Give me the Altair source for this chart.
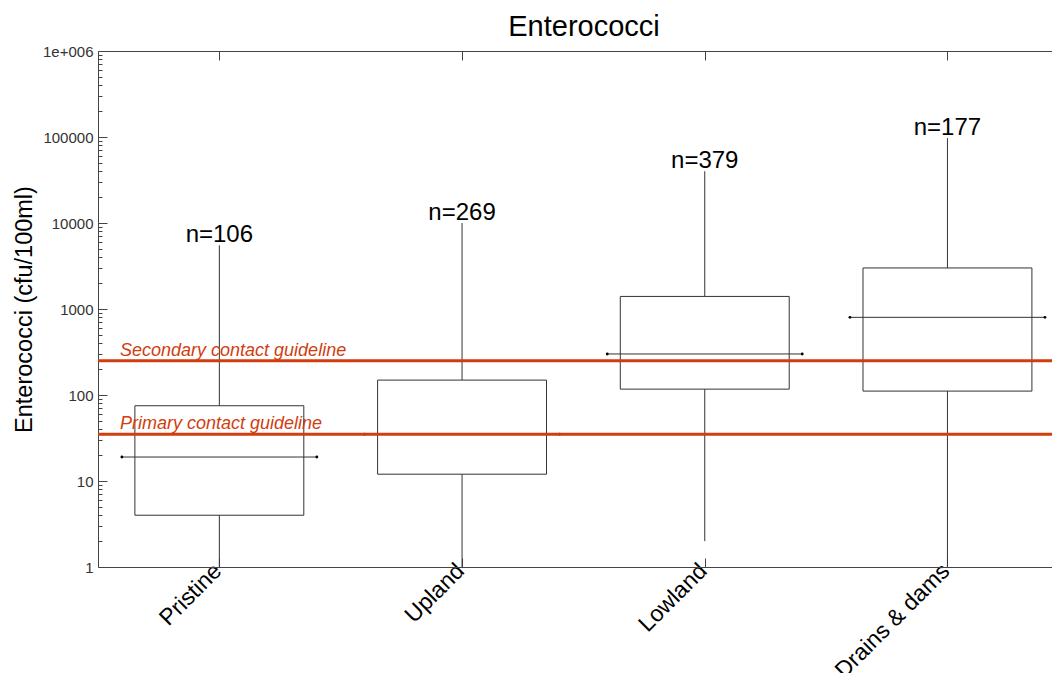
import json
import altair as alt
import pandas as pd

# ---------------- data ----------------
chart_title = "Enterococci"
categories = ["Pristine", "Upland", "Lowland", "Drains & dams"]
whisker_low = [1, 1, 2, 1]
box_q1 = [4, 12, 117, 111]
box_median = [19, 35, 300, 800]
box_q3 = [75, 149, 1400, 3000]
whisker_high = [5500, 10000, 40000, 97000]
n_obs = [106, 269, 379, 177]

guideline_values = [250, 35]
guideline_labels = ["Secondary contact guideline", "Primary contact guideline"]

y_major_ticks = [1, 10, 100, 1000, 10000, 100000, 1000000]
y_major_labels = ["1", "10", "100", "1000", "10000", "100000", "1e+006"]
y_minor_ticks = [m * d for d in y_major_ticks[:-1] for m in range(2, 10)]

# ---------------- tables ----------------
df = pd.DataFrame({
    "pos": list(range(len(categories))),
    "cat": categories,
    "low": whisker_low,
    "q1": box_q1,
    "med": box_median,
    "q3": box_q3,
    "high": whisker_high,
    "n": n_obs,
})
gl = pd.DataFrame({"value": guideline_values, "label": guideline_labels})
tl = pd.DataFrame({"t": [chart_title]})

# ---------------- styles ----------------
RED = "#d13d0e"
INK = "#333333"
FRAME = "#444444"
FONT = "Liberation Sans"
W, H = 954, 516
PX_PER_CAT = 242.7
BOX_HALF = 0.348
MED_HALF = 0.4017

x_scale = alt.Scale(domain=[-0.5, -0.5 + W / PX_PER_CAT], nice=False, zero=False)
y_scale = alt.Scale(type="log", domain=[1, 1000000], nice=False)

maj = json.dumps(y_major_ticks)
lab = json.dumps(y_major_labels)
y_label_expr = f"{lab}[indexof({maj}, datum.value)]"
x_label_expr = f"{json.dumps(categories)}[round(datum.value)]"
cat_pos = list(range(len(categories)))

# labelled left axis (frame line + labels + title)
y_left = alt.Axis(
    orient="left", values=y_major_ticks, labelExpr=y_label_expr, labelOverlap=False,
    ticks=False, domain=True, domainColor=FRAME,
    labelFont=FONT, labelFontSize=15, labelColor="#333333", labelPadding=5,
    title="Enterococci (cfu/100ml)", titleFont=FONT, titleFontSize=23.5,
    titleFontWeight="normal", titleColor="black", titleX=-74, titleY=H / 2,
    titleBaseline="middle", titleAlign="center", grid=False,
)
# inward tick axes (shifted inside so outward ticks end on the frame)
y_left_major = alt.Axis(
    orient="left", values=y_major_ticks, labels=False, domain=False, ticks=True,
    tickSize=9, offset=-9, tickColor=FRAME, title=None, grid=False,
)
y_left_minor = alt.Axis(
    orient="left", values=y_minor_ticks, labels=False, domain=False, ticks=True,
    tickSize=4, offset=-4, tickColor=FRAME, title=None, grid=False,
)
x_bottom = alt.Axis(
    orient="bottom", values=cat_pos, labelExpr=x_label_expr,
    labelAngle=-45, labelAlign="right", labelBaseline="alphabetic",
    labelPadding=5, labelOffset=3,
    labelFont=FONT, labelFontSize=23, labelColor="black", labelOverlap=False,
    ticks=False, domain=True, domainColor=FRAME, title=None, grid=False,
)
x_bottom_ticks = alt.Axis(
    orient="bottom", values=cat_pos, labels=False, domain=False, ticks=True,
    tickSize=9, offset=-9, tickColor=FRAME, title=None, grid=False,
)
x_top = alt.Axis(
    orient="top", values=cat_pos, labels=False, domain=True, ticks=False,
    domainColor=FRAME, title=None, grid=False,
)
x_top_ticks = alt.Axis(
    orient="top", values=cat_pos, labels=False, domain=False, ticks=True,
    tickSize=9, offset=-9, tickColor=FRAME, title=None, grid=False,
)

base = alt.Chart(df)

whiskers = base.mark_rule(color=INK, strokeWidth=1).encode(
    x=alt.X("pos:Q", scale=x_scale, axis=x_bottom),
    y=alt.Y("low:Q", scale=y_scale, axis=y_left),
    y2="high:Q",
)

boxes = base.transform_calculate(
    xl=f"datum.pos - {BOX_HALF}", xr=f"datum.pos + {BOX_HALF}"
).mark_rect(fill="white", stroke=INK, strokeWidth=1).encode(
    x=alt.X("xl:Q", scale=x_scale, axis=x_bottom_ticks),
    x2="xr:Q",
    y=alt.Y("q1:Q", scale=y_scale, axis=y_left_major),
    y2="q3:Q",
)

medians = base.transform_calculate(
    ml=f"datum.pos - {MED_HALF}", mr=f"datum.pos + {MED_HALF}"
).mark_rule(color=INK, strokeWidth=1).encode(
    x=alt.X("ml:Q", scale=x_scale, axis=x_top),
    x2="mr:Q",
    y=alt.Y("med:Q", scale=y_scale, axis=y_left_minor),
)

median_dots = base.transform_calculate(
    ml=f"datum.pos - {MED_HALF}", mr=f"datum.pos + {MED_HALF}"
).transform_fold(["ml", "mr"], as_=["side", "xe"]).mark_circle(
    color="black", size=8, opacity=1
).encode(
    x=alt.X("xe:Q", scale=x_scale, axis=x_top_ticks),
    y=alt.Y("med:Q", scale=y_scale, axis=None),
)

red_lines = alt.Chart(gl).mark_rule(color=RED, strokeWidth=3).encode(
    y=alt.Y("value:Q", scale=y_scale, axis=None),
)

red_text = alt.Chart(gl).mark_text(
    color=RED, font=FONT, fontSize=18, fontStyle="italic",
    align="left", baseline="alphabetic", dy=-5,
).encode(
    x=alt.value(22),
    y=alt.Y("value:Q", scale=y_scale, axis=None),
    text="label:N",
)

n_text = base.transform_calculate(lbl="'n=' + datum.n").mark_text(
    color="black", font=FONT, fontSize=24, align="center", baseline="alphabetic", dy=-3,
).encode(
    x=alt.X("pos:Q", scale=x_scale, axis=None),
    y=alt.Y("high:Q", scale=y_scale, axis=None),
    text="lbl:N",
)

# chart title drawn as text above the plot frame
title_text = alt.Chart(tl).mark_text(
    color="black", font=FONT, fontSize=29, align="center", baseline="alphabetic",
).encode(
    x=alt.value(486),
    y=alt.value(-15),
    text="t:N",
)

chart = alt.layer(
    whiskers, boxes, medians, median_dots, red_lines, red_text, n_text, title_text
).resolve_axis(x="independent", y="independent").properties(
    width=W,
    height=H,
    autosize=alt.AutoSizeParams(type="none"),
    padding={"left": 90, "top": 43, "right": 0, "bottom": 106},
    background="white",
).configure_view(stroke=None)

chart.save("out.html", embed_options={"renderer": "svg", "actions": False})
